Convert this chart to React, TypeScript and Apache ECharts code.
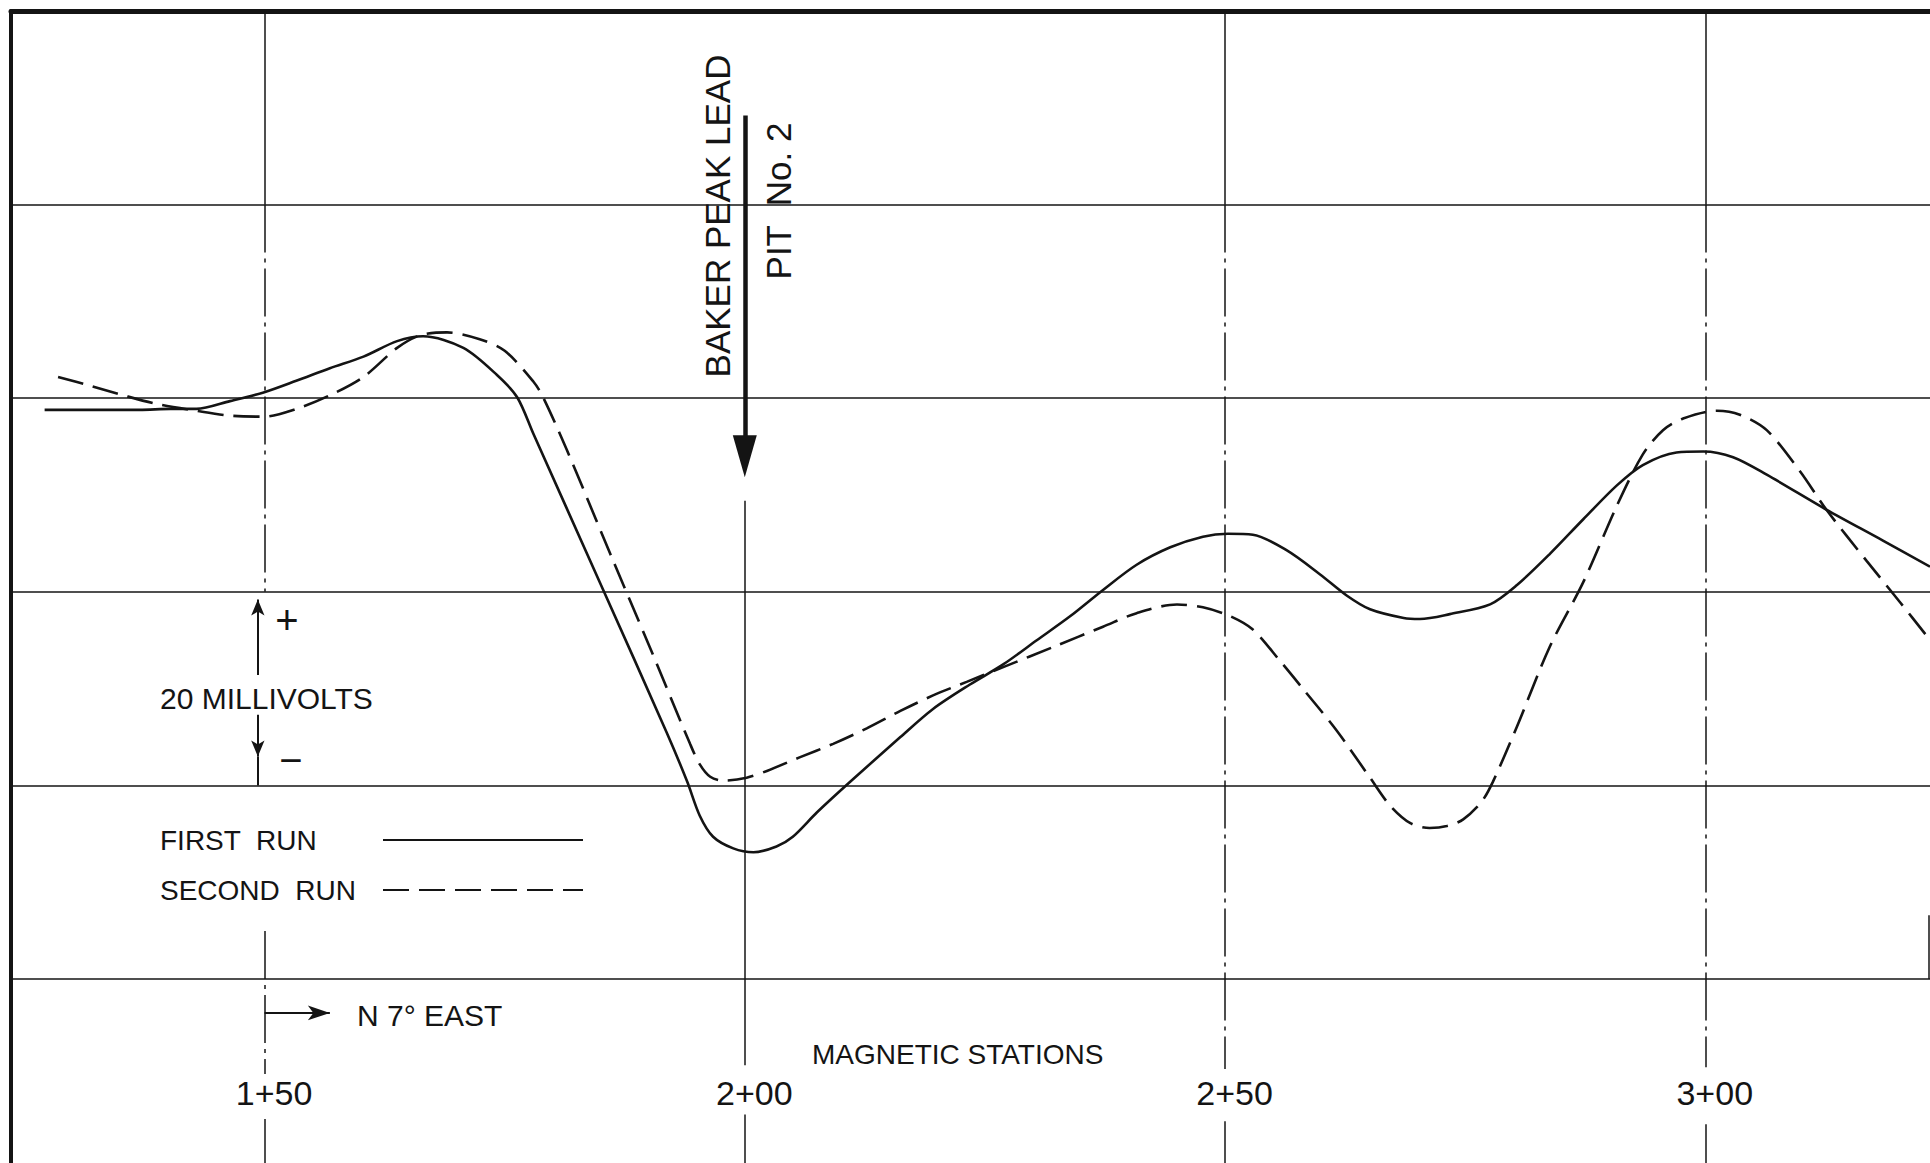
import React, { useEffect, useRef } from 'react';
import * as echarts from 'echarts';

// ---- data (stations in feet, potential in millivolts) ----
const X_MIN = 123.6;
const X_MAX = 323.4;
const Y_MIN = -19;
const Y_MAX = 100;

const STATION_TICKS = [150, 200, 250, 300];
const MV_GRID = [0, 20, 40, 60, 80];

const FIRST_RUN: [number, number][] = [
  [127.1, 58.8], [137.0, 58.8], [140.2, 58.9], [142.9, 58.9], [146.4, 59.7], [149.9, 60.6],
  [153.3, 61.8], [156.8, 63.1], [160.3, 64.3], [163.8, 65.9], [166.5, 66.4], [170.7, 65.2],
  [174.2, 62.4], [176.3, 60.1], [178.0, 56.3], [184.9, 41.0], [191.9, 25.4], [194.0, 20.4],
  [195.3, 16.9], [196.7, 14.7], [198.8, 13.5], [200.9, 13.1], [203.3, 13.7], [205.0, 14.7],
  [207.5, 17.2], [211.0, 20.4], [216.2, 25.0], [219.6, 27.9], [223.4, 30.4], [226.9, 32.5],
  [230.4, 35.0], [233.9, 37.5], [237.3, 40.2], [240.8, 42.8], [244.3, 44.6], [247.7, 45.7],
  [250.3, 46.0], [252.9, 45.9], [256.4, 44.3], [259.9, 41.8], [262.7, 39.6], [265.1, 38.2],
  [268.6, 37.3], [270.3, 37.2], [273.4, 37.7], [277.6, 38.7], [280.4, 40.7], [283.8, 43.9],
  [287.3, 47.5], [290.8, 51.0], [293.5, 53.1], [297.0, 54.4], [299.8, 54.5], [302.9, 53.9],
  [306.4, 52.1], [312.6, 48.5], [318.5, 45.3], [323.4, 42.6],
];

const SECOND_RUN: [number, number][] = [
  [128.5, 62.2], [131.8, 61.3], [135.3, 60.3], [138.8, 59.4], [142.9, 58.7], [146.4, 58.2],
  [149.9, 58.1], [153.3, 58.9], [156.8, 60.3], [160.3, 62.2], [163.8, 65.2], [166.2, 66.5],
  [169.0, 66.8], [172.4, 66.1], [175.0, 64.9], [178.0, 61.7], [179.0, 60.1], [181.5, 54.6],
  [186.0, 43.9], [190.1, 34.3], [194.3, 24.3], [195.3, 22.2], [196.4, 20.9], [197.8, 20.5],
  [200.2, 20.8], [202.3, 21.5], [205.7, 22.9], [209.2, 24.3], [212.7, 25.9], [216.2, 27.7],
  [219.6, 29.3], [223.1, 30.7], [227.1, 32.3], [232.1, 34.3], [237.3, 36.4], [240.8, 37.8],
  [245.0, 38.7], [247.7, 38.4], [250.5, 37.5], [252.9, 36.1], [255.7, 32.9], [258.1, 30.0],
  [261.6, 25.7], [265.1, 20.8], [267.2, 17.9], [269.3, 16.1], [271.3, 15.6], [273.1, 15.8],
  [274.8, 16.5], [276.7, 18.3], [277.9, 20.4], [280.4, 26.1], [283.8, 34.3], [287.3, 41.0],
  [290.8, 48.9], [293.5, 54.2], [295.6, 56.7], [297.7, 57.9], [301.2, 58.7], [303.6, 58.3],
  [306.4, 56.7], [309.9, 52.4], [312.6, 48.5], [316.8, 43.2], [320.3, 38.9], [323.1, 35.4],
];

// station grid line pieces drawn dash-dot: [station, fromMv, toMv]
const STATION_LINES: [number, number, number][] = [
  [150, 80, 40], [150, 4.97, -9.8], [150, -14.45, -19],
  [250, 80, -9.3], [250, -14.7, -19],
  [300, 80, -9.1], [300, -15.0, -19],
];
// station grid line pieces drawn solid
const STATION_LINES_SOLID: [number, number, number][] = [
  [150, 100, 80], [250, 100, 80], [300, 100, 80],
  [200, 49.4, -8.9], [200, -14.0, -19],
  [323.3, 6.6, 0],
];
// "BAKER PEAK LEAD" arrow: [station, fromMv, toMv]
const LEAD_ARROW: [number, number, number] = [200, 89.2, 54.0];
// 20 millivolt scale bar
const SCALE_STATION = 149.3;
const SCALE_UP: [number, number] = [31.4, 39.2];
const SCALE_DOWN: [number, number] = [27.3, 23.0];
const SCALE_FOOT: [number, number] = [23.0, 20];
// bearing arrow: [fromStation, toStation, mv]
const BEARING_ARROW: [number, number, number] = [150, 156.8, -3.5];

const SERIES_NAMES = ['FIRST  RUN', 'SECOND  RUN'];

const FONT = "'Liberation Sans', Arial, sans-serif";
const INK = '#141414';

function stationLabel(v: number) {
  const hundreds = Math.floor(v / 100);
  const rest = Math.round(v - hundreds * 100);
  return `${hundreds}+${String(rest).padStart(2, '0')}`;
}

export default function App() {
  const ref = useRef<HTMLDivElement>(null);

  useEffect(() => {
    if (!ref.current) return;
    const chart = echarts.init(ref.current, undefined, { renderer: 'svg' });

    const gridLineStyle = { color: INK, width: 1.5, type: [48, 6, 4, 6] as any };
    const solidGrid = { color: INK, width: 1.5, type: 'solid' as const };

    const markData: any[] = [];
    MV_GRID.forEach((v) => markData.push({ yAxis: v, lineStyle: solidGrid }));
    STATION_LINES.forEach(([s, a, b]) =>
      markData.push([{ coord: [s, a], lineStyle: gridLineStyle }, { coord: [s, b] }])
    );
    STATION_LINES_SOLID.forEach(([s, a, b]) =>
      markData.push([{ coord: [s, a], lineStyle: solidGrid }, { coord: [s, b] }])
    );
    markData.push([
      { coord: [LEAD_ARROW[0], LEAD_ARROW[1]], lineStyle: { color: INK, width: 4.5, type: 'solid' } },
      { coord: [LEAD_ARROW[0], LEAD_ARROW[2]], symbol: 'triangle', symbolSize: [24, 42] },
    ]);
    markData.push([
      { coord: [SCALE_STATION, SCALE_UP[0]], lineStyle: { color: INK, width: 2, type: 'solid' } },
      { coord: [SCALE_STATION, SCALE_UP[1]], symbol: 'arrow', symbolSize: [10, 16] },
    ]);
    markData.push([
      { coord: [SCALE_STATION, SCALE_DOWN[0]], lineStyle: { color: INK, width: 2, type: 'solid' } },
      { coord: [SCALE_STATION, SCALE_DOWN[1]], symbol: 'arrow', symbolSize: [10, 16] },
    ]);
    markData.push([
      { coord: [SCALE_STATION, SCALE_FOOT[0]], lineStyle: { color: INK, width: 2, type: 'solid' } },
      { coord: [SCALE_STATION, SCALE_FOOT[1]] },
    ]);
    markData.push([
      { coord: [BEARING_ARROW[0], BEARING_ARROW[2]], lineStyle: { color: INK, width: 1.8, type: 'solid' } },
      { coord: [BEARING_ARROW[1], BEARING_ARROW[2]], symbol: 'arrow', symbolSize: [11, 22] },
    ]);

    const option: any = {
      animation: false,
      backgroundColor: '#ffffff',
      grid: { left: 11, right: 0, top: 11, bottom: 0, containLabel: false },
      legend: {
        data: SERIES_NAMES,
        orient: 'vertical',
        left: 160,
        top: 826,
        padding: 0,
        align: 'right',
        itemWidth: 200,
        itemHeight: 2,
        itemGap: 22,
        selectedMode: false,
        itemStyle: { opacity: 0 },
        formatter: (name: string) => `{t|${name}}`,
        textStyle: {
          color: INK,
          fontFamily: FONT,
          fontSize: 28,
          rich: {
            t: { width: 218, align: 'left', fontSize: 28, lineHeight: 30, fontFamily: FONT, color: INK },
          },
        },
      },
      xAxis: [
        {
          type: 'value',
          min: X_MIN,
          max: X_MAX,
          position: 'bottom',
          axisLine: { show: false, onZero: false },
          axisTick: { show: false },
          splitLine: { show: false },
          axisLabel: {
            show: true,
            inside: true,
            margin: 70,
            customValues: STATION_TICKS,
            formatter: (v: number) => stationLabel(v),
            fontSize: 34,
            fontFamily: FONT,
            color: INK,
            verticalAlign: 'middle',
            padding: [0, 0, 0, 19],
          },
        },
        {
          type: 'value',
          min: X_MIN,
          max: X_MAX,
          position: 'top',
          axisLine: { show: true, onZero: false, lineStyle: { color: INK, width: 5 } },
          axisTick: { show: false },
          axisLabel: { show: false },
          splitLine: { show: false },
        },
      ],
      yAxis: {
        type: 'value',
        min: Y_MIN,
        max: Y_MAX,
        axisLine: { show: true, onZero: false, lineStyle: { color: INK, width: 4 } },
        axisTick: { show: false },
        axisLabel: { show: false },
        splitLine: { show: false },
      },
      series: [
        {
          name: 'frame',
          type: 'line',
          data: [],
          silent: true,
          markLine: {
            silent: true,
            symbol: ['none', 'none'],
            label: { show: false },
            lineStyle: { color: INK, width: 1.5, type: 'solid' },
            itemStyle: { color: INK },
            emphasis: { disabled: true },
            data: markData,
          },
        },
        {
          name: SERIES_NAMES[0],
          type: 'line',
          data: FIRST_RUN,
          smooth: 0.3,
          symbol: 'none',
          silent: true,
          z: 5,
          lineStyle: { color: INK, width: 2.6, type: 'solid' },
          itemStyle: { color: INK },
        },
        {
          name: SERIES_NAMES[1],
          type: 'line',
          data: SECOND_RUN,
          smooth: 0.3,
          symbol: 'none',
          silent: true,
          z: 5,
          lineStyle: { color: INK, width: 2.6, type: [26, 10] },
          itemStyle: { color: INK },
        },
      ],
      graphic: [
        {
          type: 'text', x: 717, y: 216, rotation: Math.PI / 2, silent: true,
          style: { text: 'BAKER PEAK LEAD', fontSize: 35, fontFamily: FONT, fill: INK, align: 'center', verticalAlign: 'middle' },
        },
        {
          type: 'text', x: 778, y: 201, rotation: Math.PI / 2, silent: true,
          style: { text: 'PIT  No. 2', fontSize: 35, fontFamily: FONT, fill: INK, align: 'center', verticalAlign: 'middle' },
        },
        {
          type: 'text', x: 160, y: 698, silent: true,
          style: { text: '20 MILLIVOLTS', fontSize: 30, fontFamily: FONT, fill: INK, align: 'left', verticalAlign: 'middle' },
        },
        {
          type: 'text', x: 287, y: 620, silent: true,
          style: { text: '+', fontSize: 40, fontFamily: FONT, fill: INK, align: 'center', verticalAlign: 'middle' },
        },
        {
          type: 'text', x: 291, y: 760, silent: true,
          style: { text: '\u2212', fontSize: 40, fontFamily: FONT, fill: INK, align: 'center', verticalAlign: 'middle' },
        },
        {
          type: 'text', x: 357, y: 1015, silent: true,
          style: { text: 'N 7\u00b0 EAST', fontSize: 30, fontFamily: FONT, fill: INK, align: 'left', verticalAlign: 'middle' },
        },
        {
          type: 'text', x: 812, y: 1054, silent: true,
          style: { text: 'MAGNETIC STATIONS', fontSize: 28, fontFamily: FONT, fill: INK, align: 'left', verticalAlign: 'middle' },
        },
      ],
    };

    chart.setOption(option);
    return () => chart.dispose();
  }, []);

  return (
    <div
      ref={ref}
      style={{ position: 'absolute', left: 0, top: 0, width: 1930, height: 1163, background: '#fff' }}
    />
  );
}
